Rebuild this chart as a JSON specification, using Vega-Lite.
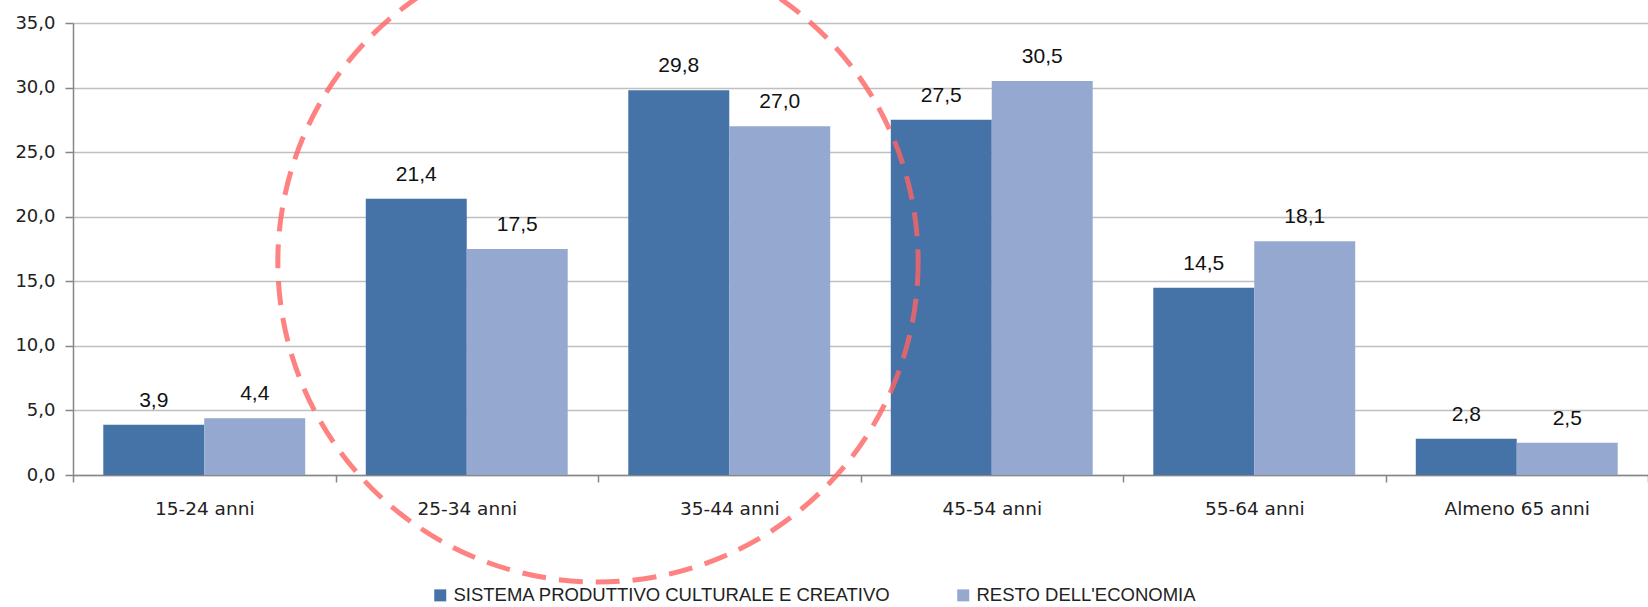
{
  "$schema": "https://vega.github.io/schema/vega-lite/v6.json",
  "width": 1575,
  "height": 452,
  "autosize": {"type": "none"},
  "padding": {"left": 73, "top": 23, "right": 0, "bottom": 132},
  "config": {
    "view": {"stroke": null},
    "locale": {"number": {"decimal": ",", "thousands": ".", "grouping": [3], "currency": ["", " €"]}}
  },
  "datasets": {
    "bars": [
      {"eta": "15-24 anni", "serie": "SISTEMA PRODUTTIVO CULTURALE E CREATIVO", "valore": 3.9},
      {"eta": "15-24 anni", "serie": "RESTO DELL'ECONOMIA", "valore": 4.4},
      {"eta": "25-34 anni", "serie": "SISTEMA PRODUTTIVO CULTURALE E CREATIVO", "valore": 21.4},
      {"eta": "25-34 anni", "serie": "RESTO DELL'ECONOMIA", "valore": 17.5},
      {"eta": "35-44 anni", "serie": "SISTEMA PRODUTTIVO CULTURALE E CREATIVO", "valore": 29.8},
      {"eta": "35-44 anni", "serie": "RESTO DELL'ECONOMIA", "valore": 27.0},
      {"eta": "45-54 anni", "serie": "SISTEMA PRODUTTIVO CULTURALE E CREATIVO", "valore": 27.5},
      {"eta": "45-54 anni", "serie": "RESTO DELL'ECONOMIA", "valore": 30.5},
      {"eta": "55-64 anni", "serie": "SISTEMA PRODUTTIVO CULTURALE E CREATIVO", "valore": 14.5},
      {"eta": "55-64 anni", "serie": "RESTO DELL'ECONOMIA", "valore": 18.1},
      {"eta": "Almeno 65 anni", "serie": "SISTEMA PRODUTTIVO CULTURALE E CREATIVO", "valore": 2.8},
      {"eta": "Almeno 65 anni", "serie": "RESTO DELL'ECONOMIA", "valore": 2.5}
    ],
    "cerchio": [
      {"cx": 2, "cy": 16.5}
    ]
  },
  "layer": [
    {
      "data": {"name": "bars"},
      "encoding": {
        "x": {
          "field": "eta", "type": "nominal",
          "sort": ["15-24 anni", "25-34 anni", "35-44 anni", "45-54 anni", "55-64 anni", "Almeno 65 anni"],
          "scale": {"paddingInner": 0, "paddingOuter": 0},
          "axis": {
            "title": null, "labelAngle": 0, "labelFont": "DejaVu Sans", "labelFontSize": 18.5,
            "labelColor": "#222222", "labelPadding": 17, "domainColor": "#868686", "domainWidth": 1.5,
            "tickColor": "#868686", "tickSize": 7, "tickWidth": 1.5, "tickBand": "extent"
          }
        },
        "xOffset": {
          "field": "serie", "type": "nominal",
          "sort": ["SISTEMA PRODUTTIVO CULTURALE E CREATIVO", "RESTO DELL'ECONOMIA"],
          "scale": {"paddingInner": 0, "paddingOuter": 0.3}
        },
        "y": {
          "field": "valore", "type": "quantitative",
          "scale": {"domain": [0, 35], "nice": false},
          "axis": {
            "title": null, "values": [0, 5, 10, 15, 20, 25, 30, 35], "format": ".1f",
            "labelFont": "DejaVu Sans", "labelFontSize": 18, "labelColor": "#222222",
            "labelPadding": 10, "domainColor": "#868686", "domainWidth": 1.5,
            "tickColor": "#868686", "tickSize": 8, "tickWidth": 1.5,
            "gridColor": "#BFBFBF", "gridWidth": 1.5
          }
        }
      },
      "layer": [
        {
          "mark": {"type": "bar"},
          "encoding": {
            "color": {
              "field": "serie", "type": "nominal",
              "scale": {
                "domain": ["SISTEMA PRODUTTIVO CULTURALE E CREATIVO", "RESTO DELL'ECONOMIA"],
                "range": ["#4572A7", "#95A9D0"]
              },
              "legend": {
                "title": null, "orient": "none", "direction": "horizontal",
                "legendX": 358, "legendY": 563, "padding": 0,
                "symbolType": "square", "symbolSize": 144, "symbolStrokeWidth": 0,
                "labelFont": "Liberation Sans", "labelFontSize": 18.5, "labelColor": "#222222",
                "labelOffset": 4, "labelLimit": 0, "columnPadding": 63
              }
            }
          }
        },
        {
          "mark": {"type": "text", "font": "Liberation Sans", "fontSize": 21, "color": "#111111", "baseline": "alphabetic", "dy": -18},
          "encoding": {
            "text": {"field": "valore", "type": "quantitative", "format": ".1f"}
          }
        }
      ]
    },
    {
      "data": {"name": "cerchio"},
      "mark": {
        "type": "point", "shape": "circle", "filled": false, "size": 410000,
        "stroke": "#FF6464", "strokeWidth": 5, "strokeDash": [24, 13], "opacity": 0.8, "clip": false
      },
      "encoding": {
        "x": {"field": "cx", "type": "quantitative", "scale": {"domain": [0, 6], "nice": false, "zero": false}, "axis": null},
        "y": {"field": "cy", "type": "quantitative", "title": null}
      }
    }
  ],
  "resolve": {"scale": {"x": "independent"}}
}
